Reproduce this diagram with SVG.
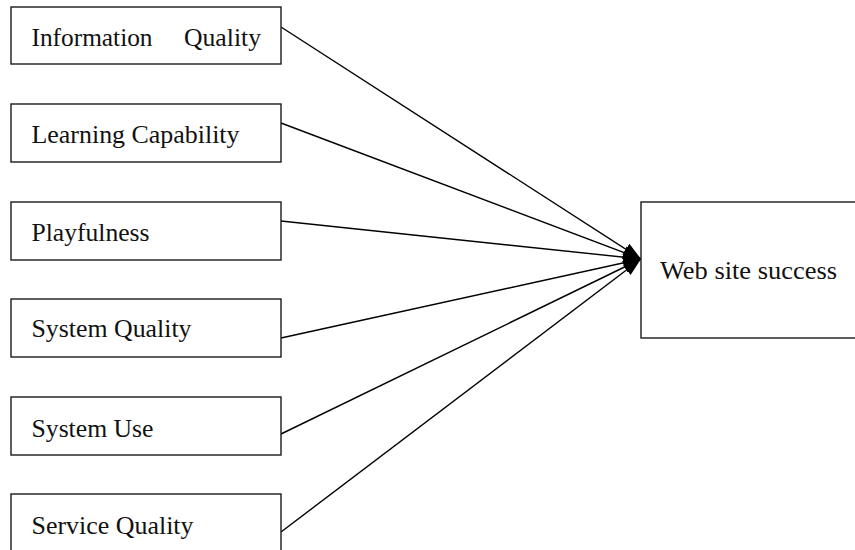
<svg xmlns="http://www.w3.org/2000/svg" width="855" height="550" viewBox="0 0 855 550">
  <defs>
    <style>
      .box { fill: #ffffff; stroke: #1a1a1a; stroke-width: 1.4; }
      .lbl { font-family: "Liberation Serif", "Times New Roman", serif; font-size: 26px; fill: #111111; }
      .conn { stroke: #000000; stroke-width: 1.4; fill: none; marker-end: url(#arrow); }
    </style>
    <marker id="arrow" markerUnits="userSpaceOnUse" markerWidth="20" markerHeight="16" refX="18" refY="8" orient="auto">
      <path d="M0,1.5 L18,8 L0,14.5 Z" fill="#000000"/>
    </marker>
  </defs>
  <rect width="855" height="550" fill="#ffffff"/>

  <g id="connectors">
    <line class="conn" x1="281" y1="27" x2="641" y2="259"/>
    <line class="conn" x1="281" y1="123" x2="641" y2="259"/>
    <line class="conn" x1="281" y1="221" x2="641" y2="259"/>
    <line class="conn" x1="281" y1="338" x2="641" y2="259"/>
    <line class="conn" x1="281" y1="434" x2="641" y2="259"/>
    <line class="conn" x1="281" y1="532" x2="641" y2="259"/>
  </g>

  <g id="information-quality">
    <rect class="box" x="11" y="7" width="270" height="57"/>
    <text class="lbl" y="46"><tspan x="31.5" textLength="121" lengthAdjust="spacingAndGlyphs">Information</tspan><tspan x="184" textLength="77" lengthAdjust="spacingAndGlyphs">Quality</tspan></text>
  </g>
  <g id="learning-capability">
    <rect class="box" x="11" y="104" width="270" height="58"/>
    <text class="lbl" x="31.5" y="143" textLength="208" lengthAdjust="spacingAndGlyphs">Learning Capability</text>
  </g>
  <g id="playfulness">
    <rect class="box" x="11" y="202" width="270" height="58"/>
    <text class="lbl" x="31.5" y="241" textLength="118" lengthAdjust="spacingAndGlyphs">Playfulness</text>
  </g>
  <g id="system-quality">
    <rect class="box" x="11" y="299" width="270" height="58"/>
    <text class="lbl" x="31.5" y="337" textLength="160" lengthAdjust="spacingAndGlyphs">System Quality</text>
  </g>
  <g id="system-use">
    <rect class="box" x="11" y="397" width="270" height="58"/>
    <text class="lbl" x="31.5" y="436.5" textLength="122" lengthAdjust="spacingAndGlyphs">System Use</text>
  </g>
  <g id="service-quality">
    <rect class="box" x="11" y="494" width="270" height="70"/>
    <text class="lbl" x="31.5" y="534" textLength="162" lengthAdjust="spacingAndGlyphs">Service Quality</text>
  </g>
  <g id="web-site-success">
    <rect class="box" x="641" y="202" width="230" height="136"/>
    <text class="lbl" x="660" y="279" textLength="177" lengthAdjust="spacingAndGlyphs">Web site success</text>
  </g>
</svg>
